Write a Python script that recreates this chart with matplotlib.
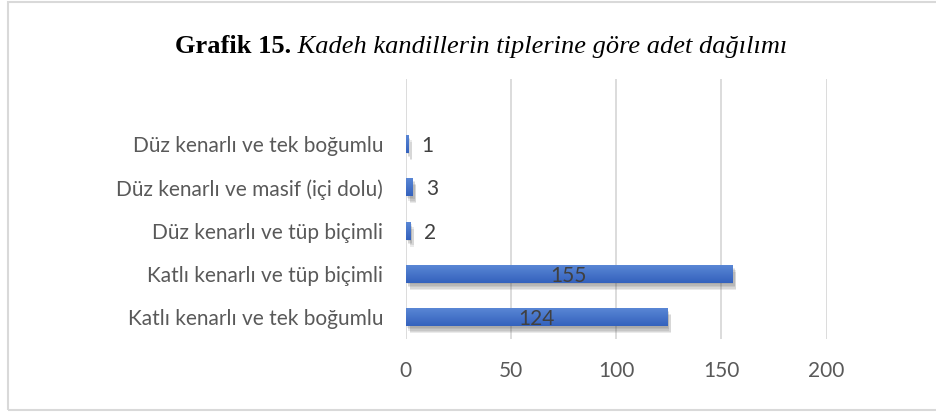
import matplotlib
matplotlib.use("Agg")
import matplotlib.pyplot as plt
import matplotlib.patheffects as pe
import numpy as np
from matplotlib.patches import Rectangle

# Kadeh kandil tipleri ve adetleri (alttan üste)
categories = [
    "Katlı kenarlı ve tek boğumlu",
    "Katlı kenarlı ve tüp biçimli",
    "Düz kenarlı ve tüp biçimli",
    "Düz kenarlı ve masif (içi dolu)",
    "Düz kenarlı ve tek boğumlu",
]
counts = [124, 155, 2, 3, 1]
x_ticks = [0, 50, 100, 150, 200]

title_bold = "Grafik 15."
title_italic = " Kadeh kandillerin tiplerine göre adet dağılımı"

grid_color = "#d9d9d9"
text_color = "#595959"
label_color = "#404040"
label_font = "Lato"

fig = plt.figure(figsize=(9.36, 4.12), dpi=100)
W, H = 936, 412

# outer frame of the chart
fig.patches.append(Rectangle((8 / W, 2 / H), 1.2, 408 / H, transform=fig.transFigure,
                             fill=False, edgecolor=grid_color, linewidth=1.5))

ax = fig.add_axes([405.5 / W, 1 - 339 / H, 421 / W, 260 / H])
ypos = list(range(len(categories)))

# soft drop shadow built from a few faint offset copies
shadow = [pe.SimplePatchShadow(offset=(dx, -dy), shadow_rgbFace="#444444", alpha=0.11)
          for dx, dy in [(1, 1), (2, 2), (2, 3), (3, 4), (3, 5)]]
bars = ax.barh(ypos, counts, height=0.42, color="#4472C4", zorder=3,
               path_effects=shadow + [pe.Normal()])

ax.set_xlim(0, 200)
ax.set_ylim(-0.5, len(categories) + 0.5)

# vertical gradient fill on each bar
grad = np.linspace(0, 1, 64).reshape(-1, 1)
cmap = matplotlib.colors.LinearSegmentedColormap.from_list("bar", ["#3462bd", "#5b88d6"])
for b in bars:
    x0, y0, w, h = b.get_x(), b.get_y(), b.get_width(), b.get_height()
    im = ax.imshow(grad, extent=(x0, x0 + w, y0, y0 + h), origin="lower", cmap=cmap,
                   aspect="auto", zorder=3.5, interpolation="bilinear")
    im.set_clip_path(b)

ax.set_xticks(x_ticks)
ax.set_xticklabels([str(t) for t in x_ticks], fontsize=15, color=text_color, family=label_font)
ax.set_yticks(ypos)
ax.set_yticklabels(categories, fontsize=15, color=text_color, family=label_font)
ax.tick_params(axis="both", length=0)
ax.tick_params(axis="x", pad=16)
ax.tick_params(axis="y", pad=16)
ax.grid(axis="x", color=grid_color, linewidth=1.3, zorder=0)
for s in ax.spines.values():
    s.set_visible(False)

# value labels: inside the bar when it is wide enough, otherwise to the right
for b, v in zip(bars, counts):
    cy = b.get_y() + b.get_height() / 2
    if v > 20:
        ax.text(v / 2, cy, str(v), ha="center", va="center_baseline", fontsize=15,
                color=label_color, family=label_font, zorder=4)
    else:
        ax.annotate(str(v), (v, cy), xytext=(10, 0), textcoords="offset points",
                    ha="left", va="center_baseline", fontsize=15, color=label_color,
                    family=label_font, zorder=4)

# title: bold figure number followed by italic caption
t1 = fig.text(175 / W, 1 - 53 / H, title_bold, fontsize=19, fontweight="bold",
              family="Liberation Serif", color="black", ha="left", va="baseline")
fig.canvas.draw()
ax.annotate(title_italic, xy=(1, 0), xycoords=t1, va="bottom", ha="left",
            fontsize=19, style="italic", family="Liberation Serif", color="black",
            annotation_clip=False)

fig.savefig("out.png", dpi=100)
